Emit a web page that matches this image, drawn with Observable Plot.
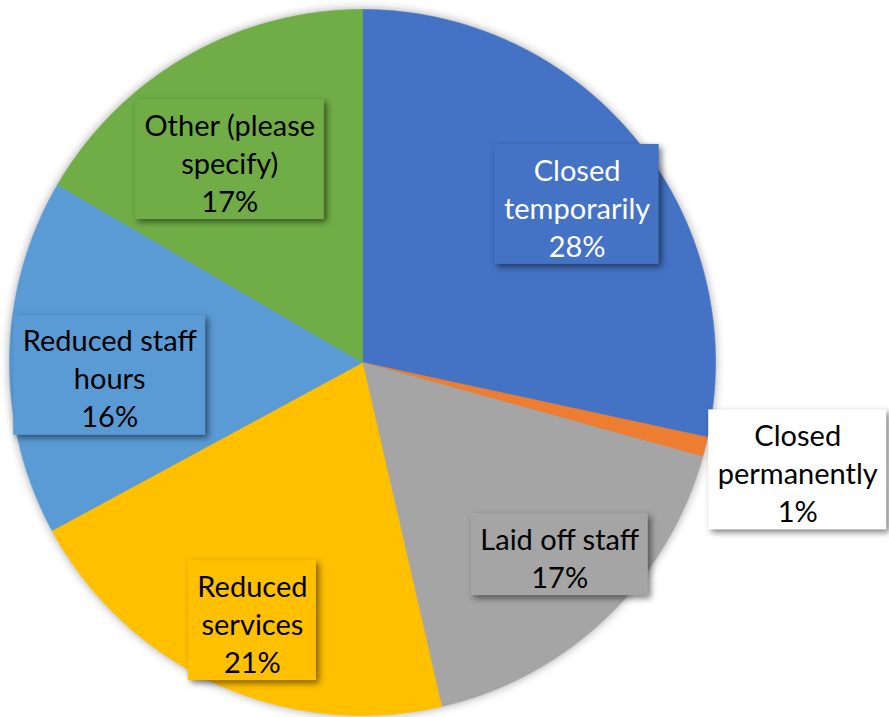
<!DOCTYPE html>
<html>
<head>
<meta charset="utf-8">
<script src="https://cdn.jsdelivr.net/npm/d3@7"></script>
<script src="https://cdn.jsdelivr.net/npm/@observablehq/plot@0.6"></script>
<style>
  body { margin: 0; background: #fff; }
  #chart g[aria-label="line"] { filter: drop-shadow(0 0 5px rgba(0,0,0,0.35)); }
  #chart g[aria-label="rect"] rect { filter: drop-shadow(3px 3px 3px rgba(0,0,0,0.5)); }
</style>
</head>
<body>
<div id="chart"></div>
<script>
// ---- data ----
const categories = ["Closed temporarily", "Closed permanently", "Laid off staff", "Reduced services", "Reduced staff hours", "Other (please specify)"];
const labelLines = [["Closed", "temporarily"], ["Closed", "permanently"], ["Laid off staff"], ["Reduced", "services"], ["Reduced staff", "hours"], ["Other (please", "specify)"]];
const values = [28.4, 0.9, 17.1, 20.7, 16.3, 16.6];

// ---- styles / layout ----
const sliceColors = ["#4472C4", "#ED7D31", "#A5A5A5", "#FFC000", "#5B9BD5", "#70AD47"];
const boxColors = ["#4472C4", "#FFFFFF", "#A5A5A5", "#FFC000", "#5B9BD5", "#70AD47"];
const textColors = ["#FFFFFF", "#000000", "#000000", "#000000", "#000000", "#000000"];
const labelRadius = [0.755, 1.27, 0.78, 0.795, 0.717, 0.687];
const labelAngleShift = [2.5, 0, -2, -1.2, -3.8, -3.3]; // degrees
const R = 353, CX = 362, CY = 362;
const fontSize = 29, lineHeightPx = 38, padX = 9, padY = 3;
const fontFamily = "Lato";

const total = d3.sum(values);
const slices = categories.map((name, i) => ({name, value: values[i], i}));
const arcs = d3.pie().sort(null).value(d => d.value)(slices);

// pie polygons
const piePoints = [];
for (const a of arcs) {
  const n = Math.max(2, Math.ceil((a.endAngle - a.startAngle) / (Math.PI / 360)));
  piePoints.push({name: a.data.name, color: sliceColors[a.data.i], x: 0, y: 0});
  for (let k = 0; k <= n; k++) {
    const t = a.startAngle + (a.endAngle - a.startAngle) * k / n;
    piePoints.push({name: a.data.name, color: sliceColors[a.data.i], x: Math.sin(t), y: Math.cos(t)});
  }
  piePoints.push({name: a.data.name, color: sliceColors[a.data.i], x: 0, y: 0});
}

// labels
const ctx = document.createElement("canvas").getContext("2d");
ctx.font = `${fontSize}px ${fontFamily}`;
const labels = arcs.map(a => {
  const i = a.data.i;
  const mid = (a.startAngle + a.endAngle) / 2 + labelAngleShift[i] * Math.PI / 180;
  const r = labelRadius[i];
  const lines = [...labelLines[i], Math.round(a.data.value / total * 100) + "%"];
  const w = d3.max(lines, l => ctx.measureText(l).width);
  const hw = (w / 2 + padX) / R;
  const hh = (lines.length * lineHeightPx / 2 + padY) / R;
  const x = r * Math.sin(mid), y = r * Math.cos(mid);
  return {text: lines.join("\n"), x, y, x1: x - hw, x2: x + hw, y1: y - hh, y2: y + hh,
          box: boxColors[i], ink: textColors[i]};
});

const chart = Plot.plot({
  width: 889,
  height: 717,
  margin: 0,
  x: {domain: [-1, 1], range: [CX - R, CX + R], axis: null},
  y: {domain: [-1, 1], range: [CY + R, CY - R], axis: null},
  color: {type: "identity"},
  marks: [
    Plot.line(piePoints, {x: "x", y: "y", z: "name", fill: "color", stroke: "color", strokeWidth: 0.6, curve: "linear"}),
    Plot.rect(labels, {x1: "x1", x2: "x2", y1: "y1", y2: "y2", fill: "box"}),
    Plot.text(labels, {x: "x", y: "y", text: "text", fill: "ink", fontSize, fontFamily,
                       lineHeight: lineHeightPx / fontSize, lineAnchor: "middle", textAnchor: "middle", dy: 2})
  ]
});
document.getElementById("chart").appendChild(chart);
</script>
</body>
</html>
